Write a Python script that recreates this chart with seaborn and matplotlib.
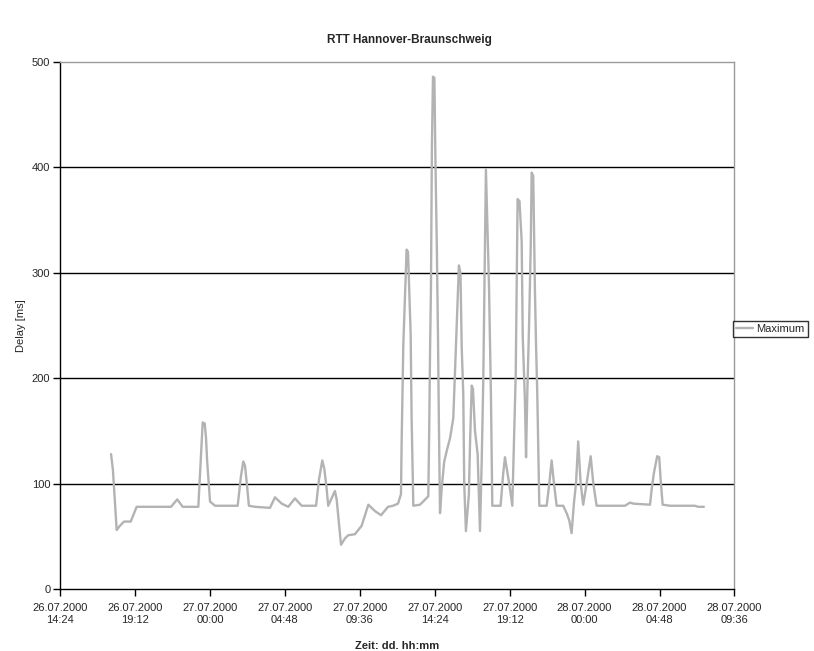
from matplotlib import pyplot as plt
import matplotlib.dates as mdates
import pandas as pd
import seaborn as sns

# RTT Hannover-Braunschweig, Maximum delay
# hours after 26.07.2000 14:24
start = pd.Timestamp("2000-07-26 14:24")

hours = [
    3.27, 3.39, 3.63, 3.84, 4.10, 4.53, 4.91, 7.11, 7.51, 7.86,
    8.86, 8.97, 9.14, 9.27, 9.35, 9.43, 9.61, 9.93, 11.38, 11.59,
    11.74, 11.85, 11.96, 12.10, 12.49, 13.45, 13.77, 14.20, 14.62, 15.05,
    15.48, 16.40, 16.59, 16.80, 16.93, 17.08, 17.18, 17.61, 17.72, 18.00,
    18.25, 18.46, 18.89, 19.32, 19.75, 20.17, 20.56, 21.01, 21.33, 21.65,
    21.84, 21.88, 21.99, 22.10, 22.20, 22.29, 22.37, 22.46, 22.52, 22.63,
    23.06, 23.59, 23.65, 23.70, 23.76, 23.82, 23.89, 23.98, 24.05, 24.14,
    24.21, 24.27, 24.34, 24.45, 24.61, 24.77, 24.98, 25.19, 25.34, 25.47,
    25.55, 25.65, 25.73, 25.83, 25.89, 26.00, 26.19, 26.26, 26.37, 26.45,
    26.58, 26.75, 26.90, 27.01, 27.11, 27.22, 27.28, 27.37, 27.48, 27.60,
    27.69, 28.22, 28.39, 28.50, 28.61, 28.82, 28.97, 29.08, 29.19, 29.25,
    29.31, 29.43, 29.57, 29.64, 29.72, 29.78, 29.85, 29.93, 30.04, 30.15,
    30.21, 30.31, 30.36, 30.42, 30.49, 30.57, 30.63, 30.70, 31.17, 31.34,
    31.49, 31.64, 31.81, 32.23, 32.45, 32.62, 32.77, 32.92, 33.05, 33.19,
    33.35, 33.51, 33.73, 33.99, 34.16, 34.37, 36.19, 36.51, 36.72, 37.79,
    37.90, 38.04, 38.25, 38.38, 38.47, 38.60, 39.07, 40.67, 40.88, 41.24,
]

delay_max = [
    128, 113, 56, 60, 64, 64, 78, 78, 85, 78,
    78, 109, 158, 157, 144, 120, 83, 79, 79, 107,
    121, 117, 101, 79, 78, 77, 87, 81, 78, 86,
    79, 79, 104, 122, 114, 95, 79, 93, 85, 42,
    48, 51, 52, 60, 80, 74, 70, 78, 79, 81,
    90, 137, 232, 280, 322, 320, 283, 242, 163, 79,
    80, 88, 153, 223, 286, 419, 486, 485, 403, 321,
    239, 156, 72, 96, 121, 131, 143, 162, 223, 273,
    307, 300, 229, 185, 100, 55, 90, 137, 193, 190,
    150, 128, 55, 121, 197, 330, 398, 346, 286, 185,
    79, 79, 110, 125, 115, 95, 79, 143, 204, 286,
    370, 368, 330, 239, 204, 178, 125, 185, 248, 324,
    395, 392, 343, 283, 232, 185, 134, 79, 79, 100,
    122, 100, 79, 79, 72, 65, 53, 82, 100, 140,
    100, 80, 100, 126, 100, 79, 79, 82, 81, 80,
    95, 110, 126, 125, 104, 80, 79, 79, 78, 78,
]

y_ticks = [0, 100, 200, 300, 400, 500]

df = pd.DataFrame({
    "time": start + pd.to_timedelta(hours, unit="h"),
    "delay": delay_max,
})

sns.set_theme(style="white")
plt.rcParams["font.family"] = ["Liberation Sans", "DejaVu Sans"]

fig = plt.figure(figsize=(8.14, 6.51), dpi=100)
ax = fig.add_axes([0.0737, 0.0952, 0.8286, 0.8096])

sns.lineplot(data=df, x="time", y="delay", ax=ax, color="#b3b3b3",
             linewidth=1.7, estimator=None, label="Maximum")

# x axis: 26.07.2000 14:24 .. 28.07.2000 09:36, step 4:48
x_ticks = pd.date_range(start, periods=10, freq="288min")
ax.set_xlim(x_ticks[0], x_ticks[-1])
ax.set_xticks(x_ticks)
ax.xaxis.set_major_formatter(mdates.DateFormatter("%d.%m.%Y\n%H:%M"))
ax.set_ylim(0, 500)
ax.set_yticks(y_ticks)

for yv in y_ticks[1:-1]:
    ax.axhline(yv, color="black", linewidth=1, zorder=1)

ax.tick_params(axis="both", which="major", labelsize=8, direction="out",
               length=5, width=1, color="black", bottom=True, left=True, pad=2)
ax.tick_params(axis="x", pad=5)

for side in ["left", "bottom"]:
    ax.spines[side].set_color("black")
    ax.spines[side].set_linewidth(1)
for side in ["top", "right"]:
    ax.spines[side].set_color("#9a9a9a")
    ax.spines[side].set_linewidth(1)

ax.set_xlabel("Zeit: dd. hh:mm", fontsize=8, fontweight="bold", labelpad=12)
ax.set_ylabel("Delay [ms]", fontsize=8, labelpad=4)
fig.text(0.503, 0.938, "RTT Hannover-Braunschweig", ha="center", va="center",
         fontsize=8.5, fontweight="bold")

leg = ax.legend(loc="center left", bbox_to_anchor=(733 / 814, 1 - 329 / 651),
                bbox_transform=fig.transFigure, fontsize=8, frameon=True,
                fancybox=False, edgecolor="black", handlelength=1.5,
                handletextpad=0.3, borderpad=0.3, borderaxespad=0)
leg.get_frame().set_linewidth(1)

fig.savefig("out.png", dpi=100)
plt.close(fig)
